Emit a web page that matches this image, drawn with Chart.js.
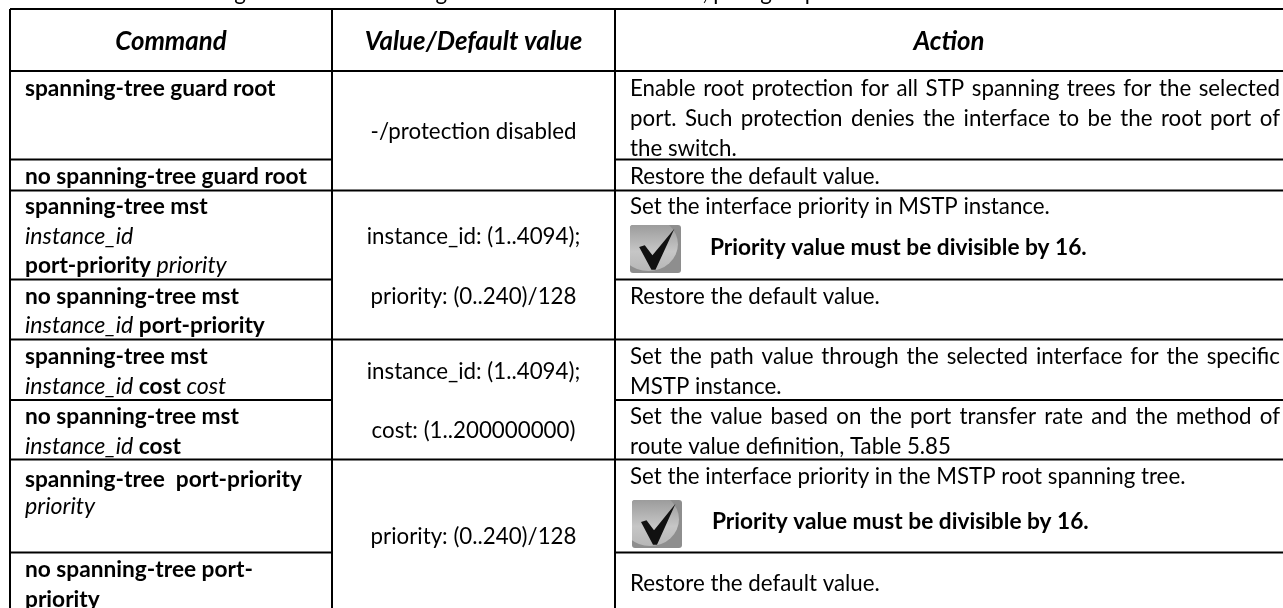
<!DOCTYPE html>
<html><head><meta charset="utf-8">
<style>html,body{margin:0;padding:0;background:#fff;overflow:hidden}#w{width:1283px;height:608px;position:relative}canvas{display:block;filter:blur(0.35px)}</style>
<script src="https://cdn.jsdelivr.net/npm/chart.js@4"></script></head>
<body><div id="w"><canvas id="c" width="1283" height="608"></canvas></div>
<script>
// --- table content ---
const caption = "Table 5.88 – STP settings for interface configuration mode for Ethernet, port group";
const headers = ["Command", "Value/Default value", "Action"];
const commands = [
  [[["b","spanning-tree guard root"]]],
  [[["b","no spanning-tree guard root"]]],
  [[["b","spanning-tree mst"]],[["i","instance_id"]],[["b","port-priority "],["i","priority"]]],
  [[["b","no spanning-tree mst"]],[["i","instance_id "],["b","port-priority"]]],
  [[["b","spanning-tree mst"]],[["i","instance_id "],["b","cost "],["i","cost"]]],
  [[["b","no spanning-tree mst"]],[["i","instance_id "],["b","cost"]]],
  [[["b","spanning-tree  port-priority"]],[["i","priority"]]],
  [[["b","no spanning-tree port-"]],[["b","priority"]]]
];
const values = ["-/protection disabled","instance_id: (1..4094);","priority: (0..240)/128","instance_id: (1..4094);","cost: (1..200000000)","priority: (0..240)/128"];
const actions = [
  ["Enable root protection for all STP spanning trees for the selected","port. Such protection denies the interface to be the root port of","the switch."],
  ["Restore the default value."],
  ["Set the interface priority in MSTP instance."],
  ["Restore the default value."],
  ["Set the path value through the selected interface for the specific","MSTP instance."],
  ["Set the value based on the port transfer rate and the method of","route value definition, Table 5.85"],
  ["Set the interface priority in the MSTP root spanning tree."],
  ["Restore the default value."]
];
const noteText = "Priority value must be divisible by 16.";

// --- layout (page units of the two linear scales) ---
const colEdges = [10, 332, 615, 1283];
const fullRules = [9, 71, 190.5, 339.5, 459.5];
const partRules = [159.5, 279.5, 400, 552.5];
const cmdBase = [[96],[184],[214,244,273],[304,333],[364,394],[424,454],[487,514],[577,607]];
const valBase = [139,244,304,379,438,544];
const actBase = [[96,126,156],[184],[214],[304],[364,394],[424,454],[484],[591]];
const justified = [[1,1,0],[0],[0],[0],[1,0],[1,0],[0],[0]];
const notes = [[255,630,225,51,48,710],[529,632,500,50,48,712]]; // baseline, icon x,y,w,h, text x
const FONT = "Lato, Carlito, sans-serif";
const SIZES = {'':22.3,b:22.7,i:23.2,bi:25.8};

const P = [];
for (const y of fullRules) P.push({x1:colEdges[0],x2:colEdges[3],y1:y,y2:y});
for (const y of partRules) { P.push({x1:colEdges[0],x2:colEdges[1],y1:y,y2:y}); P.push({x1:colEdges[2],x2:colEdges[3],y1:y,y2:y}); }
for (const x of colEdges.slice(0,3)) P.push({x1:x,x2:x,y1:9,y2:608});
const ruleSets = P.map(r=>({type:'scatter',showLine:true,pointRadius:0,borderColor:'#000',borderWidth:2,
  data:[{x:r.x1,y:r.y1},{x:r.x2,y:r.y2}]}));

const tablePlugin = {id:'table',afterDatasetsDraw(chart){
  const c=chart.ctx, sx=chart.scales.x, sy=chart.scales.y, X=v=>sx.getPixelForValue(v), Y=v=>sy.getPixelForValue(v);
  c.save(); c.fillStyle='#000'; c.textBaseline='alphabetic';
  const f=s=>(s==='b'?'bold ':s==='i'?'italic ':s==='bi'?'italic bold ':'')+SIZES[s]+'px '+FONT;
  // caption, cut off by the page top as in the reference
  c.font=f('');c.textAlign='left';c.fillText(caption,X(10),Y(-0.5));
  // headers
  c.textAlign='center';c.font=f('bi');
  [[0,1],[1,2],[2,3]].forEach(([a,b],i)=>c.fillText(headers[i],X((colEdges[a]+colEdges[b])/2),Y(50)));
  // commands
  c.textAlign='left';
  commands.forEach((lines,i)=>lines.forEach((runs,j)=>{let x=X(25);for(const [s,t] of runs){c.font=f(s);c.fillText(t,x,Y(cmdBase[i][j]));x+=c.measureText(t).width;}}));
  // values
  c.textAlign='center';c.font=f('');
  values.forEach((t,i)=>c.fillText(t,X((colEdges[1]+colEdges[2])/2),Y(valBase[i])));
  // actions
  c.textAlign='left';c.font=f('');
  const L=X(630),R=X(1280);
  actions.forEach((lines,i)=>lines.forEach((t,j)=>{
    c.wordSpacing='0px';
    if(justified[i][j]){const n=t.split(' ').length-1;c.wordSpacing=((R-L-c.measureText(t).width)/n)+'px';}
    c.fillText(t,L,Y(actBase[i][j]));c.wordSpacing='0px';
  }));
  // notes with check icon
  for(const [b,ix,iy,iw,ih,tx] of notes){
    c.font=f('b');c.fillStyle='#000';c.fillText(noteText,X(tx),Y(b));
    const x0=X(ix),y0=Y(iy),w=iw,s=ih;
    c.save();c.beginPath();c.roundRect(x0,y0,w,s,3);c.clip();
    c.fillStyle='#8e8e8e';c.fillRect(x0,y0,w,s);
    const g=c.createLinearGradient(x0,y0,x0,y0+s);g.addColorStop(0,'#9c9c9c');g.addColorStop(.55,'#c6c6c6');g.addColorStop(1,'#b5b5b5');
    c.fillStyle=g;c.beginPath();c.ellipse(x0+w*.36,y0+s*.40,w*.58,s*.56,0,0,7);c.fill();
    c.restore();
    c.fillStyle='#111';c.beginPath();
    c.moveTo(x0+w*.18,y0+s*.46);c.lineTo(x0+w*.29,y0+s*.42);c.lineTo(x0+w*.44,y0+s*.63);
    c.lineTo(x0+w*.87,y0+s*.08);c.lineTo(x0+w*.50,y0+s*.93);c.lineTo(x0+w*.42,y0+s*.93);c.closePath();c.fill();
  }
  c.restore();
}};
new Chart(document.getElementById('c'),{type:'scatter',data:{datasets:ruleSets},plugins:[tablePlugin],options:{
  responsive:false,animation:false,layout:{padding:0},
  plugins:{legend:{display:false},tooltip:{enabled:false},title:{display:false}},
  scales:{x:{type:'linear',min:0,max:1283,display:false},y:{type:'linear',reverse:true,min:0,max:608,display:false}}
}});
</script></body></html>
